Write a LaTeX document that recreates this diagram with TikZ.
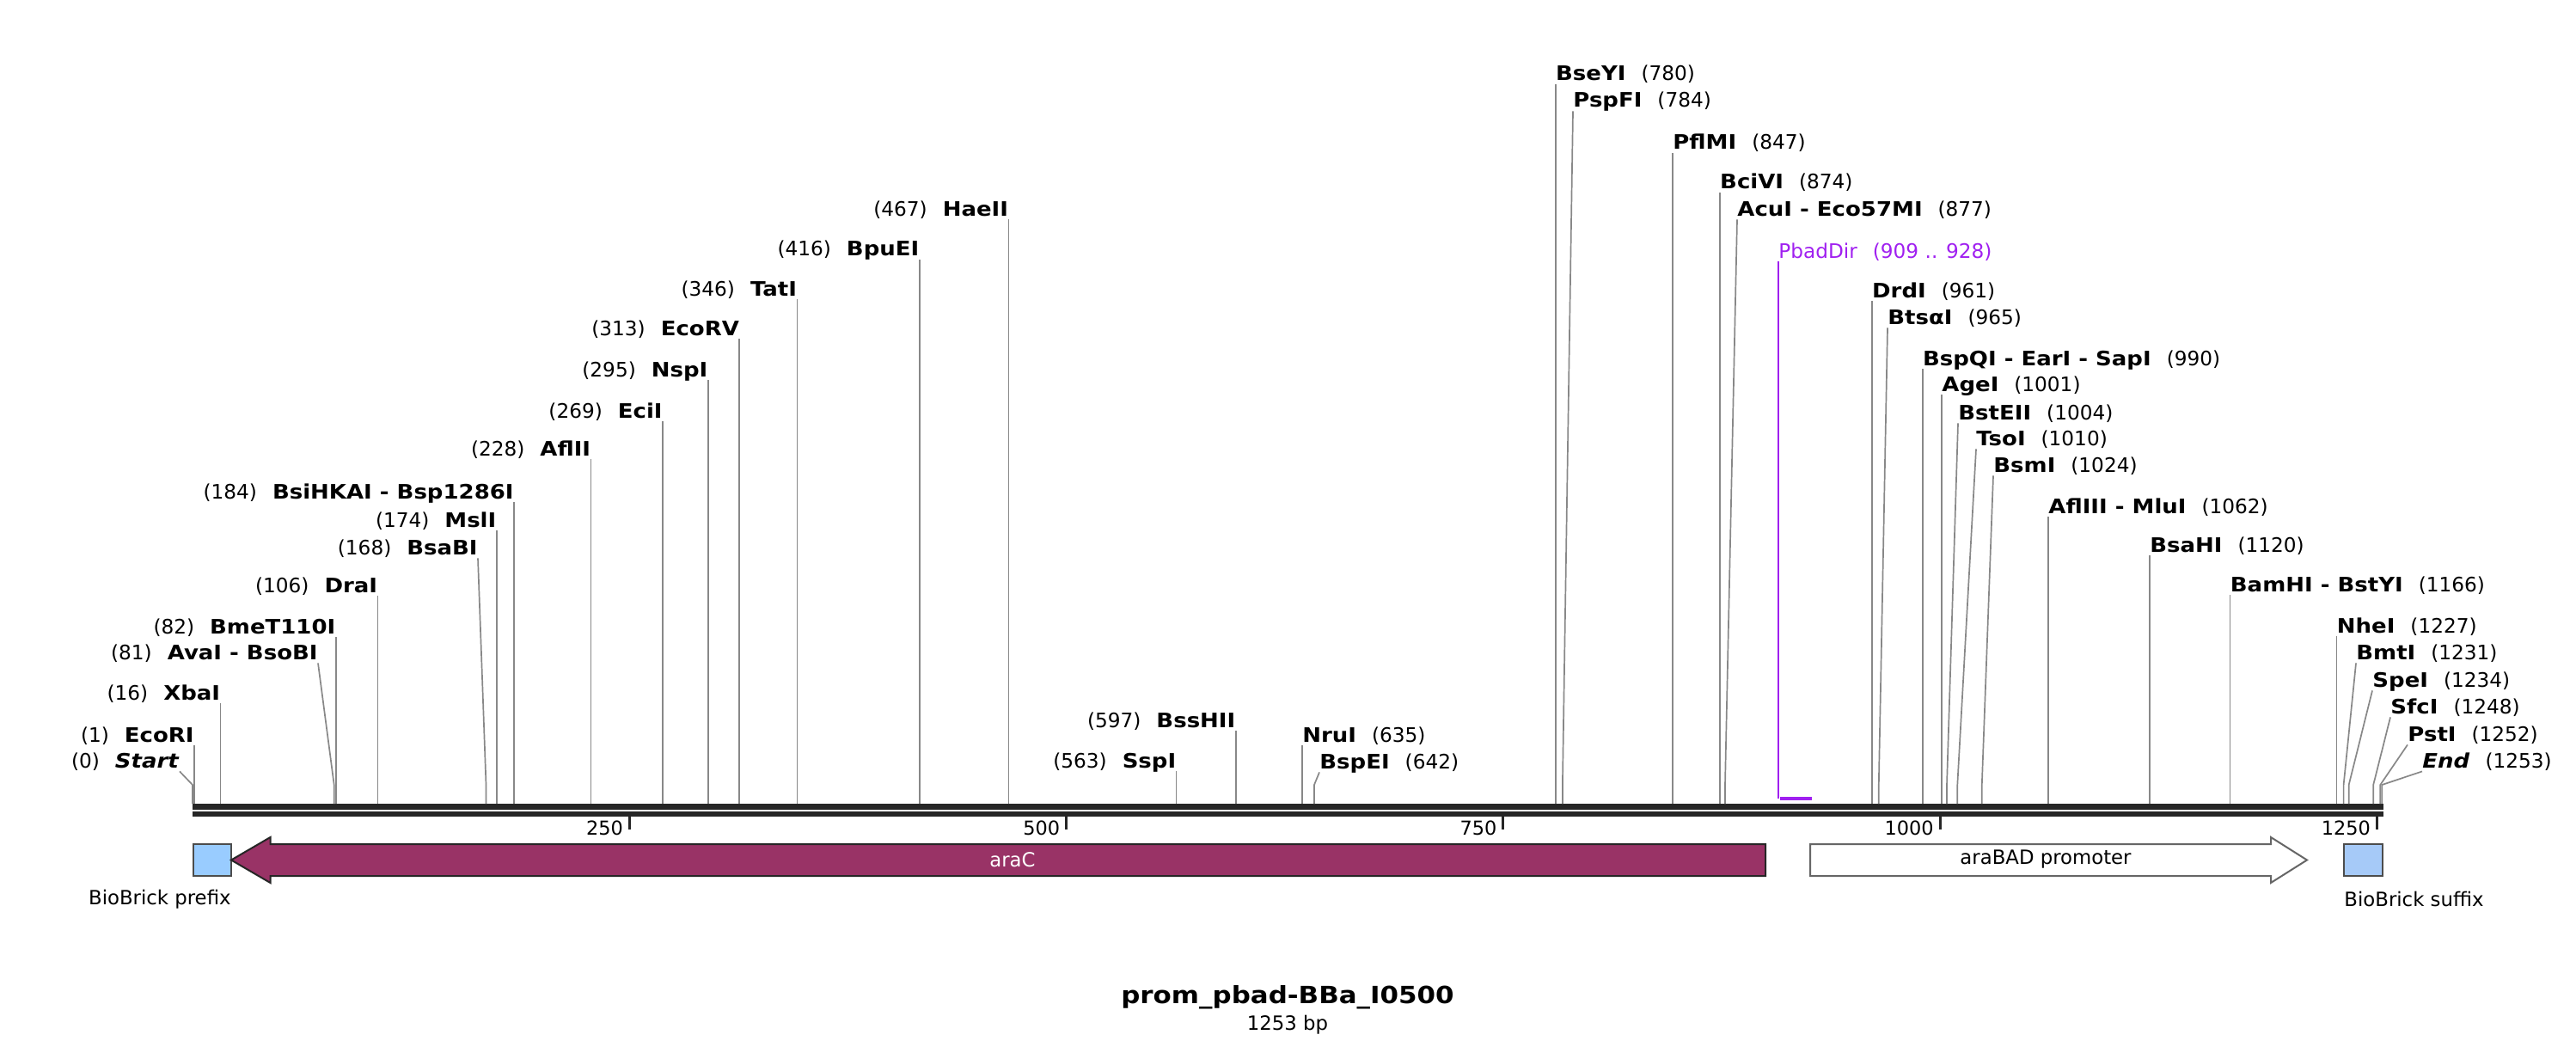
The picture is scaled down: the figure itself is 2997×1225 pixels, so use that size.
\documentclass[tikz,border=0pt]{standalone}
\usepackage{fontspec}
\setmainfont{DejaVu Sans}[BoldFeatures={FakeStretch=1.12},BoldItalicFeatures={FakeStretch=1.12}]
\definecolor{leadgray}{HTML}{888888}
\definecolor{bbcol}{HTML}{262626}
\definecolor{aracol}{HTML}{993366}
\definecolor{prefcol}{HTML}{99CCFF}
\definecolor{sufcol}{HTML}{A6CAF8}
\definecolor{pbadcol}{HTML}{A020F0}
\begin{document}
\begin{tikzpicture}[x=0.5pt,y=-0.5pt,
  lead/.style={draw=leadgray,line width=0.85pt},
  lab/.style={inner sep=0pt,text depth=2pt,font=\fontsize{11.6}{13}\selectfont},
  featlab/.style={inner sep=0pt,font=\fontsize{11.4}{13}\selectfont},
  tick/.style={draw=bbcol,line width=1.5pt},
  ticklab/.style={inner sep=0pt,anchor=base east,font=\fontsize{11.2}{13}\selectfont}]
\useasboundingbox (0,0) rectangle (2997,1225);

% backbone
\fill[bbcol] (224,935) rectangle (2773,942);
\fill[bbcol] (224,944) rectangle (2773,950);

% ticks
\foreach \t/\tx in {250/732.25,500/1240.5,750/1748.75,1000/2257,1250/2765.25}{
  \coordinate (ta\t) at (\tx,950);
  \coordinate (tb\t) at (\tx,965);
  \draw[tick] (ta\t) -- (tb\t);
  \node[ticklab] (tl\t) at (\tx-7,971) {\t};
}

% left-side sites (label right aligned)
\foreach \i/\num/\name/\xs/\xl/\yc in {
 1/(1)/EcoRI/226/226/855,
 2/(16)/XbaI/256.5/256.5/806,
 3/(81)/AvaI - BsoBI/388.7/370/759,
 4/(82)/BmeT110I/390.7/390.7/729,
 5/(106)/DraI/439.5/439.5/681,
 6/(168)/BsaBI/565.5/556/637,
 7/(174)/MslI/577.7/577.7/605,
 8/(184)/BsiHKAI - Bsp1286I/598/598/572,
 9/(228)/AflII/687.5/687.5/522,
 10/(269)/EciI/771/771/478,
 11/(295)/NspI/823.7/823.7/430,
 12/(313)/EcoRV/860.3/860.3/382,
 13/(346)/TatI/927.4/927.4/336,
 14/(416)/BpuEI/1069.7/1069.7/290,
 15/(467)/HaeII/1173.4/1173.4/243,
 16/(563)/SspI/1368.6/1368.6/885,
 17/(597)/BssHII/1437.7/1437.7/838}{
  \node[lab,anchor=base east] (L\i) at (\xl,\yc+8) {\num\hspace{9pt}\textbf{\name}};
  \coordinate (Lk\i) at (\xs,913);
  \coordinate (Lb\i) at (\xs,935);
  \draw[lead] (L\i.south east) -- (Lk\i) -- (Lb\i);
}
\node[lab,anchor=base east] (Lstart) at (209,893) {(0)\hspace{9pt}\textbf{\textit{Start}}};
\coordinate (Lkstart) at (224,913);
\coordinate (Lbstart) at (224,935);
\draw[lead] (Lstart.south east) -- (Lkstart) -- (Lbstart);

% right-side sites (label left aligned)
\foreach \i/\name/\num/\xs/\xl/\yc in {
 1/NruI/(635)/1515/1515/855,
 2/BspEI/(642)/1529/1535/886,
 3/BseYI/(780)/1809.7/1809.7/86,
 4/PspFI/(784)/1817.9/1830/117,
 5/PflMI/(847)/1946/1946/166,
 6/BciVI/(874)/2000.8/2000.8/212,
 7/AcuI - Eco57MI/(877)/2007/2021/243,
 8/DrdI/(961)/2177.7/2177.7/338,
 9/BtsαI/(965)/2185.8/2196/369,
 10/BspQI - EarI - SapI/(990)/2236.7/2236.7/417,
 11/AgeI/(1001)/2259/2259/447,
 12/BstEII/(1004)/2265/2278/480,
 13/TsoI/(1010)/2277.3/2299/510,
 14/BsmI/(1024)/2305.8/2319/541,
 15/AflIII - MluI/(1062)/2383/2383/589,
 16/BsaHI/(1120)/2501/2501/634,
 17/BamHI - BstYI/(1166)/2594.5/2594.5/680,
 18/NheI/(1227)/2718.5/2718.5/728,
 19/BmtI/(1231)/2726.6/2741/759,
 20/SpeI/(1234)/2732.7/2760/791,
 21/SfcI/(1248)/2761.2/2781/822,
 22/PstI/(1252)/2769.3/2801/854}{
  \node[lab,anchor=base west] (R\i) at (\xl,\yc+8) {\textbf{\name}\hspace{9pt}\num};
  \coordinate (Rk\i) at (\xs,913);
  \coordinate (Rb\i) at (\xs,935);
  \draw[lead] (R\i.south west) -- (Rk\i) -- (Rb\i);
}
\node[lab,anchor=base west] (Rend) at (2818,893) {\textbf{\textit{End}}\hspace{9pt}(1253)};
\coordinate (Rkend) at (2771.3,913);
\coordinate (Rbend) at (2771.3,935);
\draw[lead] (Rend.south west) -- (Rkend) -- (Rbend);

% PbadDir primer
\node[lab,anchor=base west,text=pbadcol] (pbad) at (2069,300) {PbadDir\hspace{9pt}(909 .. 928)};
\coordinate (pbadb) at (2069,929);
\draw[draw=pbadcol,line width=0.8pt] (pbad.south west) -- (pbadb);
\fill[pbadcol] (2071,927) rectangle (2108,931);

% features
\draw[draw=black!70,line width=1pt,fill=prefcol] (224.5,982) rectangle (269,1019);
\draw[draw=bbcol,line width=1pt,fill=aracol] (269,1000.5) -- (314.5,974) -- (314.5,982) -- (2054,982) -- (2054,1019) -- (314.5,1019) -- (314.5,1027) -- cycle;
\node[featlab,text=white] (araC) at (1178,1000) {araC};
\draw[draw=black!60,line width=1pt,fill=white] (2106,982) -- (2642,982) -- (2642,974) -- (2684,1000.5) -- (2642,1027) -- (2642,1019) -- (2106,1019) -- cycle;
\node[featlab] (araBAD) at (2380,1000) {araBAD promoter};
\draw[draw=black!70,line width=1pt,fill=sufcol] (2727,982) rectangle (2771.5,1019);
\node[featlab,anchor=east] (preflab) at (269,1046) {BioBrick prefix};
\node[featlab,anchor=west] (suflab) at (2727,1046) {BioBrick suffix};

% title
\node[inner sep=0pt,font=\bfseries\fontsize{13.8}{16}\selectfont] (title) at (1498,1160) {prom\_pbad-BBa\_I0500};
\node[inner sep=0pt,font=\fontsize{11.4}{13}\selectfont] (bp) at (1498,1192) {1253 bp};
\end{tikzpicture}
\end{document}
